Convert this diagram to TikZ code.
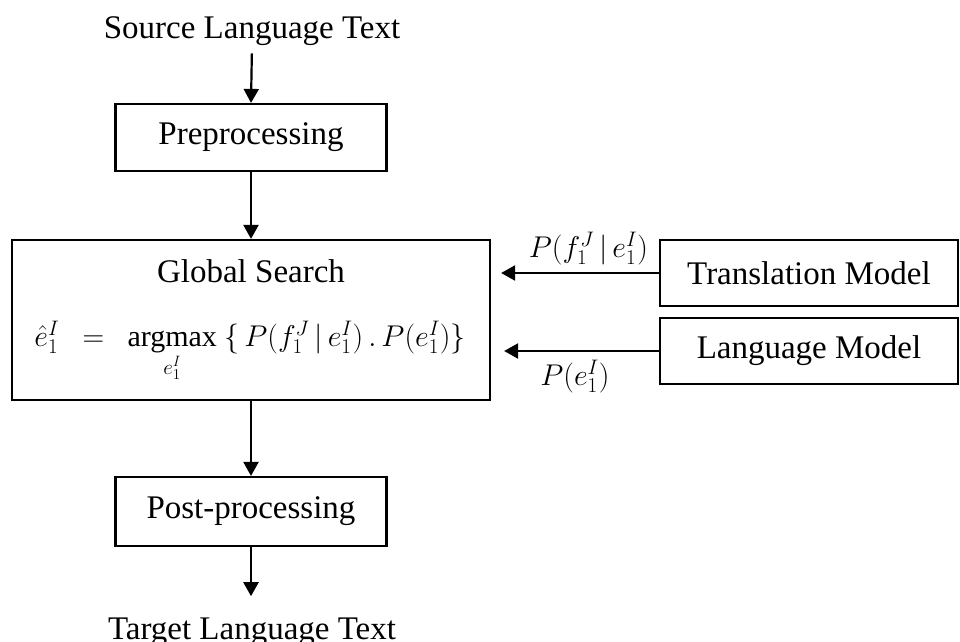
\documentclass[tikz,border=0pt]{standalone}
\usepackage{fix-cm}
\usepackage{amsmath}
\usepackage[no-math]{fontspec}
\setmainfont{Liberation Serif}
\usetikzlibrary{arrows.meta,calc}
\begin{document}
\begin{tikzpicture}[x=1pt,y=-1pt,
 box/.style={draw,line width=2.2pt,inner sep=0pt},
 arr/.style={line width=2.2pt,-{Triangle[length=14pt,width=15pt]}},
 txt/.style={inner sep=0pt,font=\fontsize{33}{40}\selectfont},
 mth/.style={inner sep=0pt,font=\fontsize{30}{36}\selectfont}]
\useasboundingbox (0,0) rectangle (960,641);
% nodes
\node[txt,anchor=base] (src) at (252,38) {Source Language Text};
\node[box,txt,minimum width=271pt,minimum height=67pt] (pre) at (251,137.5) {Preprocessing};
\node[box,minimum width=478pt,minimum height=160pt] (gs) at (251,320) {};
\node[txt,anchor=base] (gst) at (251,282) {Global Search};
\node[mth,anchor=base] (eq) at (250,346) {$\hat{e}_1^I\ \ =\ \ \underset{e_1^I}{\text{argmax}}\ \{\,P(f_1^J\,|\,e_1^I)\,.\,P(e_1^I)\}$};
\node[box,txt,minimum width=271pt,minimum height=69pt] (post) at (251,511.5) {Post-processing};
\node[txt,anchor=base] (tgt) at (252,639) {Target Language Text};
\node[box,txt,minimum width=298pt,minimum height=66pt] (tm) at (809,273) {Translation Model};
\node[box,txt,minimum width=298pt,minimum height=66pt] (lm) at (809,351) {Language Model};
% connectors
\draw[arr,shorten <=8pt] (src.south) -- (pre.north);
\draw[arr] (pre.south) -- (gs.north);
\draw[arr] (gs.south) -- (post.north);
\draw[arr,shorten >=21pt] (post.south) -- (post.south|-tgt.north);
\draw[arr,shorten >=10pt] (tm.west) -- (gs.east|-tm.west)
  node[mth,pos=0.42,above=7pt] (ltm) {$P(f_1^J\,|\,e_1^I)$};
\draw[arr,shorten >=13pt] (lm.west) -- (gs.east|-lm.west)
  node[mth,pos=0.5,below=8pt] (llm) {$P(e_1^I)$};
\end{tikzpicture}
\end{document}
